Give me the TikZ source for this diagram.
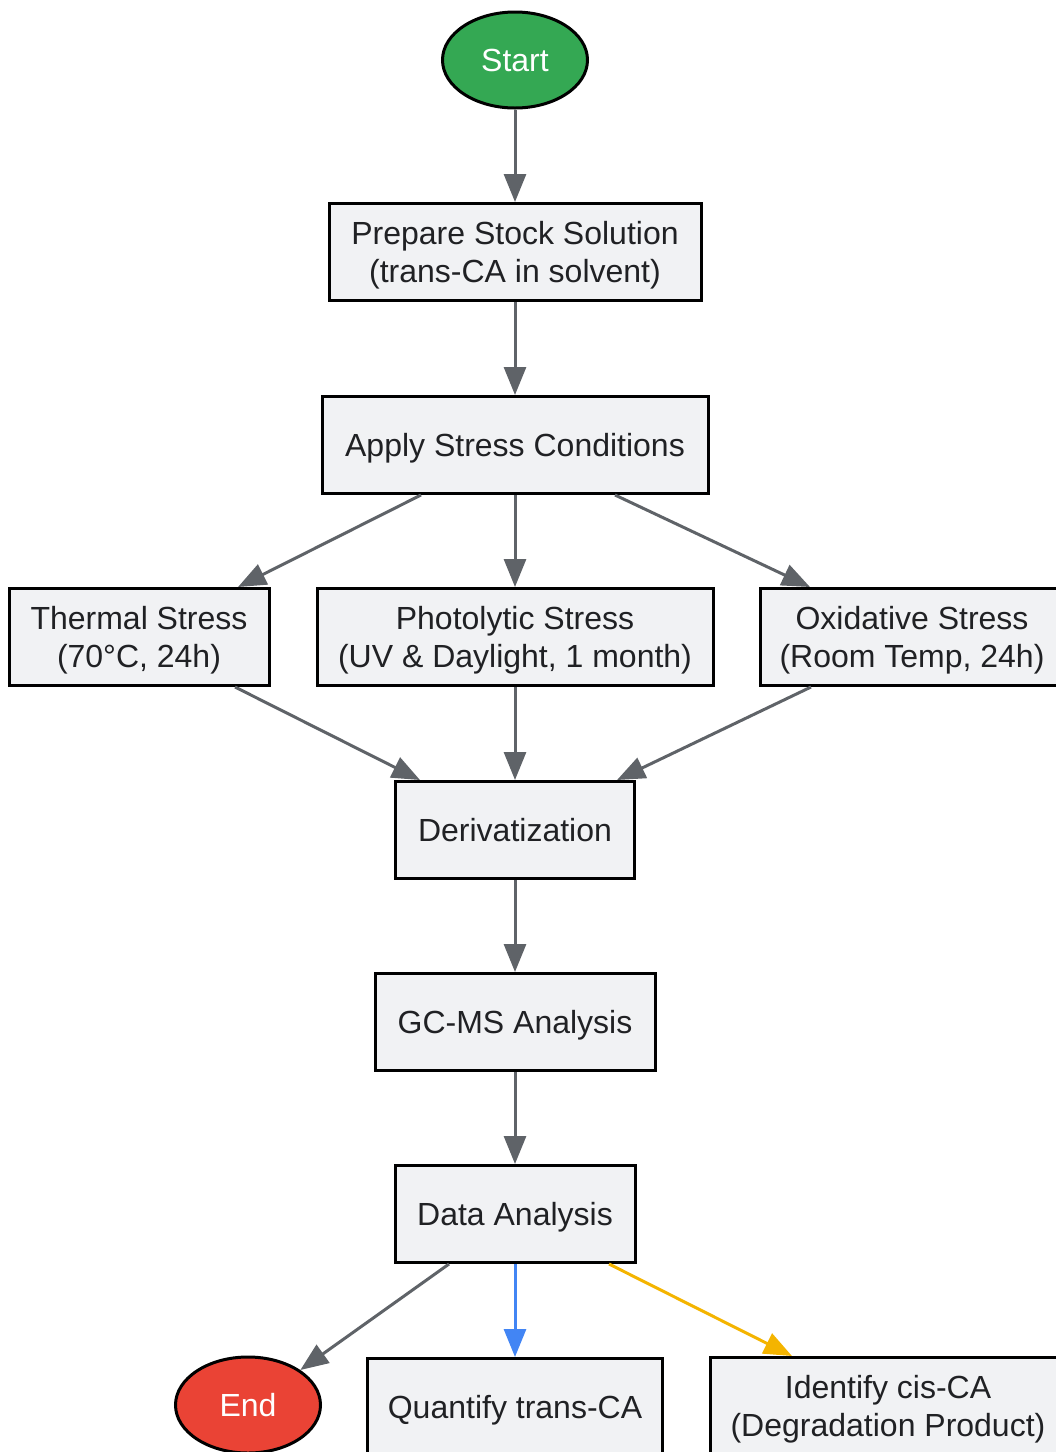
\documentclass[tikz,border=0pt]{standalone}
\usepackage{fontspec}
\setmainfont{Liberation Sans}
\usetikzlibrary{arrows.meta,shapes.geometric}
\definecolor{boxfill}{HTML}{F1F2F4}
\definecolor{inkgray}{HTML}{202124}
\definecolor{linegray}{HTML}{5F6368}
\definecolor{startgreen}{HTML}{34A853}
\definecolor{endred}{HTML}{EA4335}
\definecolor{quantblue}{HTML}{4285F4}
\definecolor{identyellow}{HTML}{F4B400}
\tikzset{
  stepbox/.style={draw=black,line width=3pt,fill=boxfill,text=inkgray,align=center,
    inner sep=0pt,minimum height=97pt,text depth=0pt,font=\fontsize{32}{38}\selectfont},
  terminal/.style={ellipse,draw=black,line width=3pt,text=white,inner sep=0pt,text depth=0pt,
    minimum width=145pt,minimum height=96pt,font=\fontsize{32}{38}\selectfont},
  flow/.style={draw=linegray,line width=3pt,-{Triangle[length=28pt,width=22pt]}}
}
\begin{document}
\begin{tikzpicture}[x=1pt,y=-1pt]
\useasboundingbox (0,0) rectangle (1056,1452);
\node[terminal,fill=startgreen] (start) at (515,60) {Start};
\node[stepbox,minimum width=372pt] (prepare) at (515,252) {Prepare Stock Solution\\(trans-CA in solvent)};
\node[stepbox,minimum width=386pt] (apply) at (515,445) {Apply Stress Conditions};
\node[stepbox,minimum width=260pt] (thermal) at (139,637) {Thermal Stress\\(70°C, 24h)};
\node[stepbox,minimum width=396pt] (photo) at (515,637) {Photolytic Stress\\(UV \& Daylight, 1 month)};
\node[stepbox,minimum width=304pt] (oxid) at (912,637) {Oxidative Stress\\(Room Temp, 24h)};
\node[stepbox,minimum width=239pt] (deriv) at (515,830) {Derivatization};
\node[stepbox,minimum width=280pt] (gcms) at (515,1022) {GC-MS Analysis};
\node[stepbox,minimum width=240pt] (data) at (515,1214) {Data Analysis};
\node[terminal,fill=endred] (end) at (248,1405) {End};
\node[stepbox,minimum width=295pt] (quant) at (515,1407) {Quantify trans-CA};
\node[stepbox,minimum width=356pt] (ident) at (888,1406) {Identify cis-CA\\(Degradation Product)};
% connectors
\draw[flow] (start) -- (prepare);
\draw[flow] (prepare) -- (apply);
\draw[flow] ([xshift=-94pt]apply.south) -- ([xshift=99pt]thermal.north);
\draw[flow] (apply) -- (photo);
\draw[flow] ([xshift=100pt]apply.south) -- ([xshift=-102pt]oxid.north);
\draw[flow] ([xshift=96pt]thermal.south) -- ([xshift=-95pt]deriv.north);
\draw[flow] (photo) -- (deriv);
\draw[flow] ([xshift=-101pt]oxid.south) -- ([xshift=102pt]deriv.north);
\draw[flow] (deriv) -- (gcms);
\draw[flow] (gcms) -- (data);
\draw[flow] ([xshift=-66pt]data.south) -- (end.north east);
\draw[flow,draw=quantblue] (data) -- (quant);
\draw[flow,draw=identyellow] ([xshift=94pt]data.south) -- ([xshift=-96pt]ident.north);
\end{tikzpicture}
\end{document}
